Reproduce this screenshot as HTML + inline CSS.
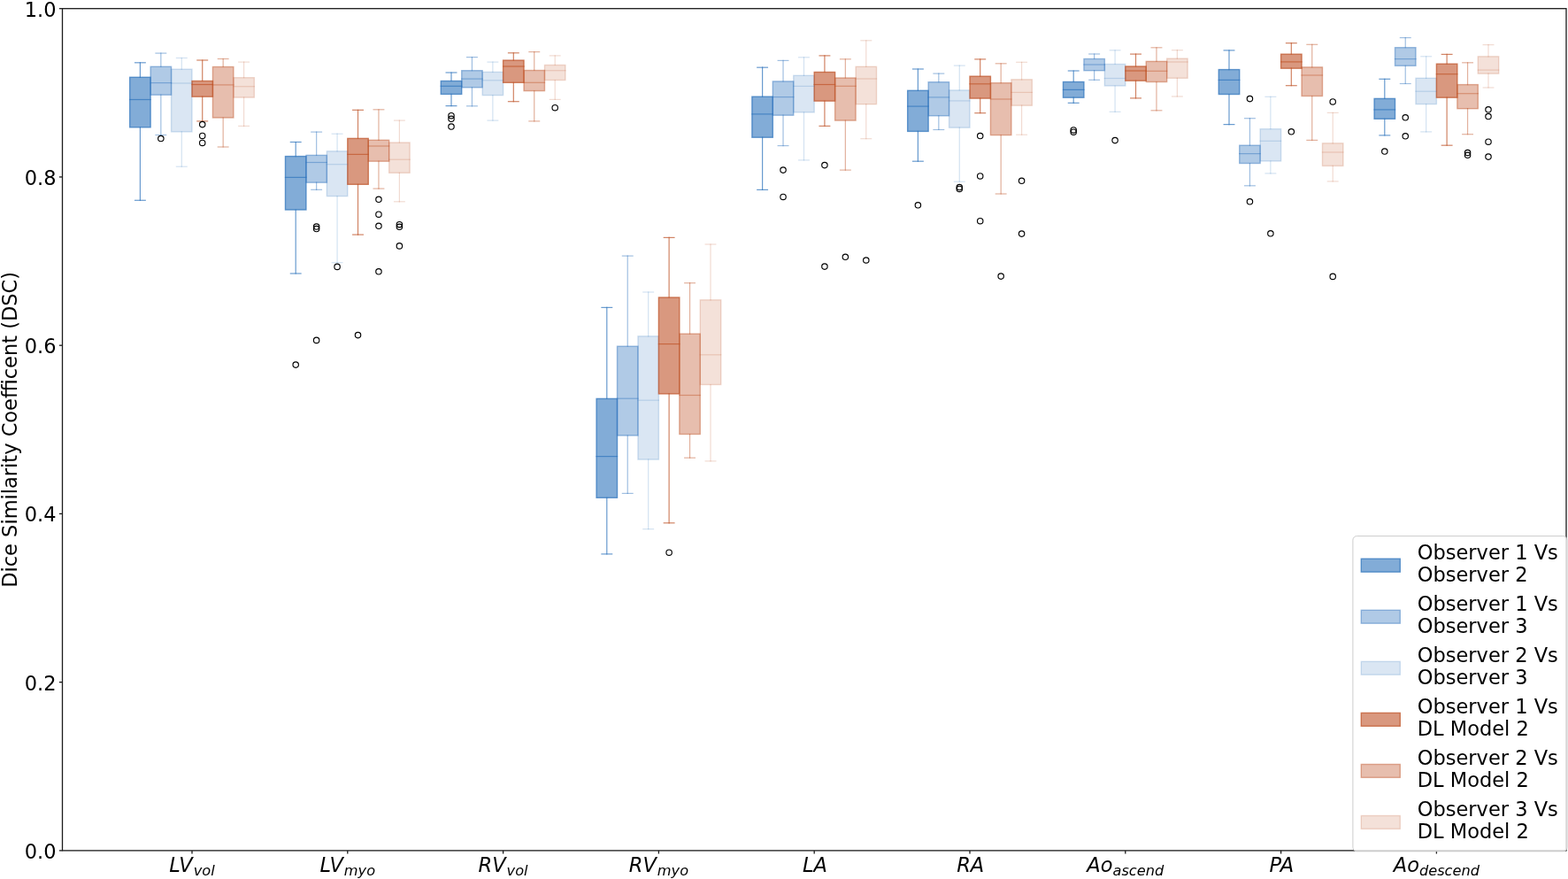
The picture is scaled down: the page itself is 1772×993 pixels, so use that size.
<!DOCTYPE html>
<html lang="en"><head><meta charset="utf-8"><title>Dice Similarity Coefficient boxplot</title>
<style>
html,body{margin:0;padding:0;background:#fff;}
svg{display:block;}
text{font-family:"DejaVu Sans","Liberation Sans",sans-serif;fill:#000;}
</style></head><body>
<svg width="1772" height="993" viewBox="0 0 1772 993">
<rect x="0" y="0" width="1772" height="993" fill="#fff"/>
<g>
<rect x="146.68" y="87.3" width="23.44" height="56.5" fill="#2f74bd" fill-opacity="0.6" stroke="#2f74bd" stroke-opacity="0.72" stroke-width="1.4"/>
<path d="M158.4 143.8V226.3M158.4 87.3V70.8" stroke="#2f74bd" stroke-opacity="0.72" stroke-width="1.2" stroke-linecap="square" fill="none"/>
<path d="M152.54 226.3H164.26" stroke="#2f74bd" stroke-opacity="0.72" stroke-width="1.2" stroke-linecap="square" fill="none"/>
<path d="M152.54 70.8H164.26" stroke="#2f74bd" stroke-opacity="0.72" stroke-width="1.2" stroke-linecap="square" fill="none"/>
<rect x="322.48" y="176.6" width="23.44" height="60.4" fill="#2f74bd" fill-opacity="0.6" stroke="#2f74bd" stroke-opacity="0.72" stroke-width="1.4"/>
<path d="M334.2 237V309M334.2 176.6V160.5" stroke="#2f74bd" stroke-opacity="0.72" stroke-width="1.2" stroke-linecap="square" fill="none"/>
<path d="M328.34 309H340.06" stroke="#2f74bd" stroke-opacity="0.72" stroke-width="1.2" stroke-linecap="square" fill="none"/>
<path d="M328.34 160.5H340.06" stroke="#2f74bd" stroke-opacity="0.72" stroke-width="1.2" stroke-linecap="square" fill="none"/>
<circle cx="334.2" cy="412.1" r="3.2" fill="none" stroke="#000" stroke-width="1.15"/>
<rect x="498.28" y="91.5" width="23.44" height="14.9" fill="#2f74bd" fill-opacity="0.6" stroke="#2f74bd" stroke-opacity="0.72" stroke-width="1.4"/>
<path d="M510 106.4V119.6M510 91.5V82" stroke="#2f74bd" stroke-opacity="0.72" stroke-width="1.2" stroke-linecap="square" fill="none"/>
<path d="M504.14 119.6H515.86" stroke="#2f74bd" stroke-opacity="0.72" stroke-width="1.2" stroke-linecap="square" fill="none"/>
<path d="M504.14 82H515.86" stroke="#2f74bd" stroke-opacity="0.72" stroke-width="1.2" stroke-linecap="square" fill="none"/>
<circle cx="510" cy="130.7" r="3.2" fill="none" stroke="#000" stroke-width="1.15"/>
<circle cx="510" cy="134.3" r="3.2" fill="none" stroke="#000" stroke-width="1.15"/>
<circle cx="510" cy="143" r="3.2" fill="none" stroke="#000" stroke-width="1.15"/>
<rect x="674.08" y="450.4" width="23.44" height="111.9" fill="#2f74bd" fill-opacity="0.6" stroke="#2f74bd" stroke-opacity="0.72" stroke-width="1.4"/>
<path d="M685.8 562.3V625.9M685.8 450.4V347.4" stroke="#2f74bd" stroke-opacity="0.72" stroke-width="1.2" stroke-linecap="square" fill="none"/>
<path d="M679.94 625.9H691.66" stroke="#2f74bd" stroke-opacity="0.72" stroke-width="1.2" stroke-linecap="square" fill="none"/>
<path d="M679.94 347.4H691.66" stroke="#2f74bd" stroke-opacity="0.72" stroke-width="1.2" stroke-linecap="square" fill="none"/>
<rect x="849.88" y="109.2" width="23.44" height="46" fill="#2f74bd" fill-opacity="0.6" stroke="#2f74bd" stroke-opacity="0.72" stroke-width="1.4"/>
<path d="M861.6 155.2V214.4M861.6 109.2V76.2" stroke="#2f74bd" stroke-opacity="0.72" stroke-width="1.2" stroke-linecap="square" fill="none"/>
<path d="M855.74 214.4H867.46" stroke="#2f74bd" stroke-opacity="0.72" stroke-width="1.2" stroke-linecap="square" fill="none"/>
<path d="M855.74 76.2H867.46" stroke="#2f74bd" stroke-opacity="0.72" stroke-width="1.2" stroke-linecap="square" fill="none"/>
<rect x="1025.68" y="102.3" width="23.44" height="46.1" fill="#2f74bd" fill-opacity="0.6" stroke="#2f74bd" stroke-opacity="0.72" stroke-width="1.4"/>
<path d="M1037.4 148.4V182.2M1037.4 102.3V78" stroke="#2f74bd" stroke-opacity="0.72" stroke-width="1.2" stroke-linecap="square" fill="none"/>
<path d="M1031.54 182.2H1043.26" stroke="#2f74bd" stroke-opacity="0.72" stroke-width="1.2" stroke-linecap="square" fill="none"/>
<path d="M1031.54 78H1043.26" stroke="#2f74bd" stroke-opacity="0.72" stroke-width="1.2" stroke-linecap="square" fill="none"/>
<circle cx="1037.4" cy="231.8" r="3.2" fill="none" stroke="#000" stroke-width="1.15"/>
<rect x="1201.48" y="92.5" width="23.44" height="17.7" fill="#2f74bd" fill-opacity="0.6" stroke="#2f74bd" stroke-opacity="0.72" stroke-width="1.4"/>
<path d="M1213.2 110.2V116.3M1213.2 92.5V80" stroke="#2f74bd" stroke-opacity="0.72" stroke-width="1.2" stroke-linecap="square" fill="none"/>
<path d="M1207.34 116.3H1219.06" stroke="#2f74bd" stroke-opacity="0.72" stroke-width="1.2" stroke-linecap="square" fill="none"/>
<path d="M1207.34 80H1219.06" stroke="#2f74bd" stroke-opacity="0.72" stroke-width="1.2" stroke-linecap="square" fill="none"/>
<circle cx="1213.2" cy="146.9" r="3.2" fill="none" stroke="#000" stroke-width="1.15"/>
<circle cx="1213.2" cy="149.2" r="3.2" fill="none" stroke="#000" stroke-width="1.15"/>
<rect x="1377.28" y="78.6" width="23.44" height="27.9" fill="#2f74bd" fill-opacity="0.6" stroke="#2f74bd" stroke-opacity="0.72" stroke-width="1.4"/>
<path d="M1389 106.5V140.6M1389 78.6V56.9" stroke="#2f74bd" stroke-opacity="0.72" stroke-width="1.2" stroke-linecap="square" fill="none"/>
<path d="M1383.14 140.6H1394.86" stroke="#2f74bd" stroke-opacity="0.72" stroke-width="1.2" stroke-linecap="square" fill="none"/>
<path d="M1383.14 56.9H1394.86" stroke="#2f74bd" stroke-opacity="0.72" stroke-width="1.2" stroke-linecap="square" fill="none"/>
<rect x="1553.08" y="111.4" width="23.44" height="22.9" fill="#2f74bd" fill-opacity="0.6" stroke="#2f74bd" stroke-opacity="0.72" stroke-width="1.4"/>
<path d="M1564.8 134.3V152.9M1564.8 111.4V89.3" stroke="#2f74bd" stroke-opacity="0.72" stroke-width="1.2" stroke-linecap="square" fill="none"/>
<path d="M1558.94 152.9H1570.66" stroke="#2f74bd" stroke-opacity="0.72" stroke-width="1.2" stroke-linecap="square" fill="none"/>
<path d="M1558.94 89.3H1570.66" stroke="#2f74bd" stroke-opacity="0.72" stroke-width="1.2" stroke-linecap="square" fill="none"/>
<circle cx="1564.8" cy="171" r="3.2" fill="none" stroke="#000" stroke-width="1.15"/>
</g>
<g>
<rect x="170.12" y="75.3" width="23.44" height="31.9" fill="#2f74bd" fill-opacity="0.38" stroke="#2f74bd" stroke-opacity="0.46" stroke-width="1.4"/>
<path d="M181.84 107.2V152.5M181.84 75.3V60.1" stroke="#2f74bd" stroke-opacity="0.46" stroke-width="1.2" stroke-linecap="square" fill="none"/>
<path d="M175.98 152.5H187.7" stroke="#2f74bd" stroke-opacity="0.46" stroke-width="1.2" stroke-linecap="square" fill="none"/>
<path d="M175.98 60.1H187.7" stroke="#2f74bd" stroke-opacity="0.46" stroke-width="1.2" stroke-linecap="square" fill="none"/>
<circle cx="181.84" cy="156.5" r="3.2" fill="none" stroke="#000" stroke-width="1.15"/>
<rect x="345.92" y="175.4" width="23.44" height="30.8" fill="#2f74bd" fill-opacity="0.38" stroke="#2f74bd" stroke-opacity="0.46" stroke-width="1.4"/>
<path d="M357.64 206.2V214.3M357.64 175.4V149.1" stroke="#2f74bd" stroke-opacity="0.46" stroke-width="1.2" stroke-linecap="square" fill="none"/>
<path d="M351.78 214.3H363.5" stroke="#2f74bd" stroke-opacity="0.46" stroke-width="1.2" stroke-linecap="square" fill="none"/>
<path d="M351.78 149.1H363.5" stroke="#2f74bd" stroke-opacity="0.46" stroke-width="1.2" stroke-linecap="square" fill="none"/>
<circle cx="357.64" cy="256" r="3.2" fill="none" stroke="#000" stroke-width="1.15"/>
<circle cx="357.64" cy="258.5" r="3.2" fill="none" stroke="#000" stroke-width="1.15"/>
<circle cx="357.64" cy="384.4" r="3.2" fill="none" stroke="#000" stroke-width="1.15"/>
<rect x="521.72" y="79.7" width="23.44" height="19.1" fill="#2f74bd" fill-opacity="0.38" stroke="#2f74bd" stroke-opacity="0.46" stroke-width="1.4"/>
<path d="M533.44 98.8V119.8M533.44 79.7V64.6" stroke="#2f74bd" stroke-opacity="0.46" stroke-width="1.2" stroke-linecap="square" fill="none"/>
<path d="M527.58 119.8H539.3" stroke="#2f74bd" stroke-opacity="0.46" stroke-width="1.2" stroke-linecap="square" fill="none"/>
<path d="M527.58 64.6H539.3" stroke="#2f74bd" stroke-opacity="0.46" stroke-width="1.2" stroke-linecap="square" fill="none"/>
<rect x="697.52" y="391.2" width="23.44" height="100.8" fill="#2f74bd" fill-opacity="0.38" stroke="#2f74bd" stroke-opacity="0.46" stroke-width="1.4"/>
<path d="M709.24 492V557.4M709.24 391.2V289.1" stroke="#2f74bd" stroke-opacity="0.46" stroke-width="1.2" stroke-linecap="square" fill="none"/>
<path d="M703.38 557.4H715.1" stroke="#2f74bd" stroke-opacity="0.46" stroke-width="1.2" stroke-linecap="square" fill="none"/>
<path d="M703.38 289.1H715.1" stroke="#2f74bd" stroke-opacity="0.46" stroke-width="1.2" stroke-linecap="square" fill="none"/>
<rect x="873.32" y="91.9" width="23.44" height="38.3" fill="#2f74bd" fill-opacity="0.38" stroke="#2f74bd" stroke-opacity="0.46" stroke-width="1.4"/>
<path d="M885.04 130.2V164.6M885.04 91.9V68.4" stroke="#2f74bd" stroke-opacity="0.46" stroke-width="1.2" stroke-linecap="square" fill="none"/>
<path d="M879.18 164.6H890.9" stroke="#2f74bd" stroke-opacity="0.46" stroke-width="1.2" stroke-linecap="square" fill="none"/>
<path d="M879.18 68.4H890.9" stroke="#2f74bd" stroke-opacity="0.46" stroke-width="1.2" stroke-linecap="square" fill="none"/>
<circle cx="885.04" cy="192.1" r="3.2" fill="none" stroke="#000" stroke-width="1.15"/>
<circle cx="885.04" cy="222.4" r="3.2" fill="none" stroke="#000" stroke-width="1.15"/>
<rect x="1049.12" y="92.7" width="23.44" height="38.1" fill="#2f74bd" fill-opacity="0.38" stroke="#2f74bd" stroke-opacity="0.46" stroke-width="1.4"/>
<path d="M1060.84 130.8V146.5M1060.84 92.7V83.1" stroke="#2f74bd" stroke-opacity="0.46" stroke-width="1.2" stroke-linecap="square" fill="none"/>
<path d="M1054.98 146.5H1066.7" stroke="#2f74bd" stroke-opacity="0.46" stroke-width="1.2" stroke-linecap="square" fill="none"/>
<path d="M1054.98 83.1H1066.7" stroke="#2f74bd" stroke-opacity="0.46" stroke-width="1.2" stroke-linecap="square" fill="none"/>
<rect x="1224.92" y="66.5" width="23.44" height="13.2" fill="#2f74bd" fill-opacity="0.38" stroke="#2f74bd" stroke-opacity="0.46" stroke-width="1.4"/>
<path d="M1236.64 79.7V90.3M1236.64 66.5V61" stroke="#2f74bd" stroke-opacity="0.46" stroke-width="1.2" stroke-linecap="square" fill="none"/>
<path d="M1230.78 90.3H1242.5" stroke="#2f74bd" stroke-opacity="0.46" stroke-width="1.2" stroke-linecap="square" fill="none"/>
<path d="M1230.78 61H1242.5" stroke="#2f74bd" stroke-opacity="0.46" stroke-width="1.2" stroke-linecap="square" fill="none"/>
<rect x="1400.72" y="164.2" width="23.44" height="20.3" fill="#2f74bd" fill-opacity="0.38" stroke="#2f74bd" stroke-opacity="0.46" stroke-width="1.4"/>
<path d="M1412.44 184.5V209.8M1412.44 164.2V133.7" stroke="#2f74bd" stroke-opacity="0.46" stroke-width="1.2" stroke-linecap="square" fill="none"/>
<path d="M1406.58 209.8H1418.3" stroke="#2f74bd" stroke-opacity="0.46" stroke-width="1.2" stroke-linecap="square" fill="none"/>
<path d="M1406.58 133.7H1418.3" stroke="#2f74bd" stroke-opacity="0.46" stroke-width="1.2" stroke-linecap="square" fill="none"/>
<circle cx="1412.44" cy="111.6" r="3.2" fill="none" stroke="#000" stroke-width="1.15"/>
<circle cx="1412.44" cy="227.8" r="3.2" fill="none" stroke="#000" stroke-width="1.15"/>
<rect x="1576.52" y="53.7" width="23.44" height="20.6" fill="#2f74bd" fill-opacity="0.38" stroke="#2f74bd" stroke-opacity="0.46" stroke-width="1.4"/>
<path d="M1588.24 74.3V94.5M1588.24 53.7V42.6" stroke="#2f74bd" stroke-opacity="0.46" stroke-width="1.2" stroke-linecap="square" fill="none"/>
<path d="M1582.38 94.5H1594.1" stroke="#2f74bd" stroke-opacity="0.46" stroke-width="1.2" stroke-linecap="square" fill="none"/>
<path d="M1582.38 42.6H1594.1" stroke="#2f74bd" stroke-opacity="0.46" stroke-width="1.2" stroke-linecap="square" fill="none"/>
<circle cx="1588.24" cy="132.8" r="3.2" fill="none" stroke="#000" stroke-width="1.15"/>
<circle cx="1588.24" cy="153.8" r="3.2" fill="none" stroke="#000" stroke-width="1.15"/>
</g>
<g>
<rect x="193.56" y="78.2" width="23.44" height="70.7" fill="#2f74bd" fill-opacity="0.175" stroke="#2f74bd" stroke-opacity="0.21" stroke-width="1.4"/>
<path d="M205.28 148.9V188.2M205.28 78.2V65.5" stroke="#2f74bd" stroke-opacity="0.21" stroke-width="1.2" stroke-linecap="square" fill="none"/>
<path d="M199.42 188.2H211.14" stroke="#2f74bd" stroke-opacity="0.21" stroke-width="1.2" stroke-linecap="square" fill="none"/>
<path d="M199.42 65.5H211.14" stroke="#2f74bd" stroke-opacity="0.21" stroke-width="1.2" stroke-linecap="square" fill="none"/>
<rect x="369.36" y="170.8" width="23.44" height="50.8" fill="#2f74bd" fill-opacity="0.175" stroke="#2f74bd" stroke-opacity="0.21" stroke-width="1.4"/>
<path d="M381.08 221.6V296.7M381.08 170.8V151.2" stroke="#2f74bd" stroke-opacity="0.21" stroke-width="1.2" stroke-linecap="square" fill="none"/>
<path d="M375.22 296.7H386.94" stroke="#2f74bd" stroke-opacity="0.21" stroke-width="1.2" stroke-linecap="square" fill="none"/>
<path d="M375.22 151.2H386.94" stroke="#2f74bd" stroke-opacity="0.21" stroke-width="1.2" stroke-linecap="square" fill="none"/>
<circle cx="381.08" cy="301.4" r="3.2" fill="none" stroke="#000" stroke-width="1.15"/>
<rect x="545.16" y="81.4" width="23.44" height="26.2" fill="#2f74bd" fill-opacity="0.175" stroke="#2f74bd" stroke-opacity="0.21" stroke-width="1.4"/>
<path d="M556.88 107.6V136.1M556.88 81.4V70.1" stroke="#2f74bd" stroke-opacity="0.21" stroke-width="1.2" stroke-linecap="square" fill="none"/>
<path d="M551.02 136.1H562.74" stroke="#2f74bd" stroke-opacity="0.21" stroke-width="1.2" stroke-linecap="square" fill="none"/>
<path d="M551.02 70.1H562.74" stroke="#2f74bd" stroke-opacity="0.21" stroke-width="1.2" stroke-linecap="square" fill="none"/>
<rect x="720.96" y="379.8" width="23.44" height="139.3" fill="#2f74bd" fill-opacity="0.175" stroke="#2f74bd" stroke-opacity="0.21" stroke-width="1.4"/>
<path d="M732.68 519.1V597.7M732.68 379.8V330" stroke="#2f74bd" stroke-opacity="0.21" stroke-width="1.2" stroke-linecap="square" fill="none"/>
<path d="M726.82 597.7H738.54" stroke="#2f74bd" stroke-opacity="0.21" stroke-width="1.2" stroke-linecap="square" fill="none"/>
<path d="M726.82 330H738.54" stroke="#2f74bd" stroke-opacity="0.21" stroke-width="1.2" stroke-linecap="square" fill="none"/>
<rect x="896.76" y="85.3" width="23.44" height="41.6" fill="#2f74bd" fill-opacity="0.175" stroke="#2f74bd" stroke-opacity="0.21" stroke-width="1.4"/>
<path d="M908.48 126.9V180.9M908.48 85.3V64.8" stroke="#2f74bd" stroke-opacity="0.21" stroke-width="1.2" stroke-linecap="square" fill="none"/>
<path d="M902.62 180.9H914.34" stroke="#2f74bd" stroke-opacity="0.21" stroke-width="1.2" stroke-linecap="square" fill="none"/>
<path d="M902.62 64.8H914.34" stroke="#2f74bd" stroke-opacity="0.21" stroke-width="1.2" stroke-linecap="square" fill="none"/>
<rect x="1072.56" y="101.9" width="23.44" height="42.3" fill="#2f74bd" fill-opacity="0.175" stroke="#2f74bd" stroke-opacity="0.21" stroke-width="1.4"/>
<path d="M1084.28 144.2V205.2M1084.28 101.9V74.1" stroke="#2f74bd" stroke-opacity="0.21" stroke-width="1.2" stroke-linecap="square" fill="none"/>
<path d="M1078.42 205.2H1090.14" stroke="#2f74bd" stroke-opacity="0.21" stroke-width="1.2" stroke-linecap="square" fill="none"/>
<path d="M1078.42 74.1H1090.14" stroke="#2f74bd" stroke-opacity="0.21" stroke-width="1.2" stroke-linecap="square" fill="none"/>
<circle cx="1084.28" cy="211.5" r="3.2" fill="none" stroke="#000" stroke-width="1.15"/>
<circle cx="1084.28" cy="213.4" r="3.2" fill="none" stroke="#000" stroke-width="1.15"/>
<rect x="1248.36" y="72.5" width="23.44" height="24.5" fill="#2f74bd" fill-opacity="0.175" stroke="#2f74bd" stroke-opacity="0.21" stroke-width="1.4"/>
<path d="M1260.08 97V126.3M1260.08 72.5V56.8" stroke="#2f74bd" stroke-opacity="0.21" stroke-width="1.2" stroke-linecap="square" fill="none"/>
<path d="M1254.22 126.3H1265.94" stroke="#2f74bd" stroke-opacity="0.21" stroke-width="1.2" stroke-linecap="square" fill="none"/>
<path d="M1254.22 56.8H1265.94" stroke="#2f74bd" stroke-opacity="0.21" stroke-width="1.2" stroke-linecap="square" fill="none"/>
<circle cx="1260.08" cy="158.6" r="3.2" fill="none" stroke="#000" stroke-width="1.15"/>
<rect x="1424.16" y="145.7" width="23.44" height="36.3" fill="#2f74bd" fill-opacity="0.175" stroke="#2f74bd" stroke-opacity="0.21" stroke-width="1.4"/>
<path d="M1435.88 182V195.9M1435.88 145.7V109.3" stroke="#2f74bd" stroke-opacity="0.21" stroke-width="1.2" stroke-linecap="square" fill="none"/>
<path d="M1430.02 195.9H1441.74" stroke="#2f74bd" stroke-opacity="0.21" stroke-width="1.2" stroke-linecap="square" fill="none"/>
<path d="M1430.02 109.3H1441.74" stroke="#2f74bd" stroke-opacity="0.21" stroke-width="1.2" stroke-linecap="square" fill="none"/>
<circle cx="1435.88" cy="263.8" r="3.2" fill="none" stroke="#000" stroke-width="1.15"/>
<rect x="1599.96" y="88.3" width="23.44" height="29.3" fill="#2f74bd" fill-opacity="0.175" stroke="#2f74bd" stroke-opacity="0.21" stroke-width="1.4"/>
<path d="M1611.68 117.6V148.9M1611.68 88.3V63.8" stroke="#2f74bd" stroke-opacity="0.21" stroke-width="1.2" stroke-linecap="square" fill="none"/>
<path d="M1605.82 148.9H1617.54" stroke="#2f74bd" stroke-opacity="0.21" stroke-width="1.2" stroke-linecap="square" fill="none"/>
<path d="M1605.82 63.8H1617.54" stroke="#2f74bd" stroke-opacity="0.21" stroke-width="1.2" stroke-linecap="square" fill="none"/>
</g>
<g>
<rect x="217" y="91.5" width="23.44" height="17.7" fill="#bf5429" fill-opacity="0.6" stroke="#bf5429" stroke-opacity="0.72" stroke-width="1.4"/>
<path d="M228.72 109.2V136.9M228.72 91.5V68" stroke="#bf5429" stroke-opacity="0.72" stroke-width="1.2" stroke-linecap="square" fill="none"/>
<path d="M222.86 136.9H234.58" stroke="#bf5429" stroke-opacity="0.72" stroke-width="1.2" stroke-linecap="square" fill="none"/>
<path d="M222.86 68H234.58" stroke="#bf5429" stroke-opacity="0.72" stroke-width="1.2" stroke-linecap="square" fill="none"/>
<circle cx="228.72" cy="140.6" r="3.2" fill="none" stroke="#000" stroke-width="1.15"/>
<circle cx="228.72" cy="153.4" r="3.2" fill="none" stroke="#000" stroke-width="1.15"/>
<circle cx="228.72" cy="161.4" r="3.2" fill="none" stroke="#000" stroke-width="1.15"/>
<rect x="392.8" y="156.4" width="23.44" height="51.9" fill="#bf5429" fill-opacity="0.6" stroke="#bf5429" stroke-opacity="0.72" stroke-width="1.4"/>
<path d="M404.52 208.3V265.1M404.52 156.4V124.3" stroke="#bf5429" stroke-opacity="0.72" stroke-width="1.2" stroke-linecap="square" fill="none"/>
<path d="M398.66 265.1H410.38" stroke="#bf5429" stroke-opacity="0.72" stroke-width="1.2" stroke-linecap="square" fill="none"/>
<path d="M398.66 124.3H410.38" stroke="#bf5429" stroke-opacity="0.72" stroke-width="1.2" stroke-linecap="square" fill="none"/>
<circle cx="404.52" cy="378.6" r="3.2" fill="none" stroke="#000" stroke-width="1.15"/>
<rect x="568.6" y="68.1" width="23.44" height="25.2" fill="#bf5429" fill-opacity="0.6" stroke="#bf5429" stroke-opacity="0.72" stroke-width="1.4"/>
<path d="M580.32 93.3V114.7M580.32 68.1V59.8" stroke="#bf5429" stroke-opacity="0.72" stroke-width="1.2" stroke-linecap="square" fill="none"/>
<path d="M574.46 114.7H586.18" stroke="#bf5429" stroke-opacity="0.72" stroke-width="1.2" stroke-linecap="square" fill="none"/>
<path d="M574.46 59.8H586.18" stroke="#bf5429" stroke-opacity="0.72" stroke-width="1.2" stroke-linecap="square" fill="none"/>
<rect x="744.4" y="336" width="23.44" height="108.9" fill="#bf5429" fill-opacity="0.6" stroke="#bf5429" stroke-opacity="0.72" stroke-width="1.4"/>
<path d="M756.12 444.9V590.8M756.12 336V268.4" stroke="#bf5429" stroke-opacity="0.72" stroke-width="1.2" stroke-linecap="square" fill="none"/>
<path d="M750.26 590.8H761.98" stroke="#bf5429" stroke-opacity="0.72" stroke-width="1.2" stroke-linecap="square" fill="none"/>
<path d="M750.26 268.4H761.98" stroke="#bf5429" stroke-opacity="0.72" stroke-width="1.2" stroke-linecap="square" fill="none"/>
<circle cx="756.12" cy="624.2" r="3.2" fill="none" stroke="#000" stroke-width="1.15"/>
<rect x="920.2" y="81.5" width="23.44" height="32.6" fill="#bf5429" fill-opacity="0.6" stroke="#bf5429" stroke-opacity="0.72" stroke-width="1.4"/>
<path d="M931.92 114.1V142.4M931.92 81.5V62.9" stroke="#bf5429" stroke-opacity="0.72" stroke-width="1.2" stroke-linecap="square" fill="none"/>
<path d="M926.06 142.4H937.78" stroke="#bf5429" stroke-opacity="0.72" stroke-width="1.2" stroke-linecap="square" fill="none"/>
<path d="M926.06 62.9H937.78" stroke="#bf5429" stroke-opacity="0.72" stroke-width="1.2" stroke-linecap="square" fill="none"/>
<circle cx="931.92" cy="186.6" r="3.2" fill="none" stroke="#000" stroke-width="1.15"/>
<circle cx="931.92" cy="301.1" r="3.2" fill="none" stroke="#000" stroke-width="1.15"/>
<rect x="1096" y="86.2" width="23.44" height="24.9" fill="#bf5429" fill-opacity="0.6" stroke="#bf5429" stroke-opacity="0.72" stroke-width="1.4"/>
<path d="M1107.72 111.1V127.7M1107.72 86.2V66.9" stroke="#bf5429" stroke-opacity="0.72" stroke-width="1.2" stroke-linecap="square" fill="none"/>
<path d="M1101.86 127.7H1113.58" stroke="#bf5429" stroke-opacity="0.72" stroke-width="1.2" stroke-linecap="square" fill="none"/>
<path d="M1101.86 66.9H1113.58" stroke="#bf5429" stroke-opacity="0.72" stroke-width="1.2" stroke-linecap="square" fill="none"/>
<circle cx="1107.72" cy="153.5" r="3.2" fill="none" stroke="#000" stroke-width="1.15"/>
<circle cx="1107.72" cy="198.9" r="3.2" fill="none" stroke="#000" stroke-width="1.15"/>
<circle cx="1107.72" cy="249.7" r="3.2" fill="none" stroke="#000" stroke-width="1.15"/>
<rect x="1271.8" y="75" width="23.44" height="16.2" fill="#bf5429" fill-opacity="0.6" stroke="#bf5429" stroke-opacity="0.72" stroke-width="1.4"/>
<path d="M1283.52 91.2V110.9M1283.52 75V61.1" stroke="#bf5429" stroke-opacity="0.72" stroke-width="1.2" stroke-linecap="square" fill="none"/>
<path d="M1277.66 110.9H1289.38" stroke="#bf5429" stroke-opacity="0.72" stroke-width="1.2" stroke-linecap="square" fill="none"/>
<path d="M1277.66 61.1H1289.38" stroke="#bf5429" stroke-opacity="0.72" stroke-width="1.2" stroke-linecap="square" fill="none"/>
<rect x="1447.6" y="61.2" width="23.44" height="16" fill="#bf5429" fill-opacity="0.6" stroke="#bf5429" stroke-opacity="0.72" stroke-width="1.4"/>
<path d="M1459.32 77.2V96.7M1459.32 61.2V48.7" stroke="#bf5429" stroke-opacity="0.72" stroke-width="1.2" stroke-linecap="square" fill="none"/>
<path d="M1453.46 96.7H1465.18" stroke="#bf5429" stroke-opacity="0.72" stroke-width="1.2" stroke-linecap="square" fill="none"/>
<path d="M1453.46 48.7H1465.18" stroke="#bf5429" stroke-opacity="0.72" stroke-width="1.2" stroke-linecap="square" fill="none"/>
<circle cx="1459.32" cy="148.8" r="3.2" fill="none" stroke="#000" stroke-width="1.15"/>
<rect x="1623.4" y="72.2" width="23.44" height="38" fill="#bf5429" fill-opacity="0.6" stroke="#bf5429" stroke-opacity="0.72" stroke-width="1.4"/>
<path d="M1635.12 110.2V164.2M1635.12 72.2V61.4" stroke="#bf5429" stroke-opacity="0.72" stroke-width="1.2" stroke-linecap="square" fill="none"/>
<path d="M1629.26 164.2H1640.98" stroke="#bf5429" stroke-opacity="0.72" stroke-width="1.2" stroke-linecap="square" fill="none"/>
<path d="M1629.26 61.4H1640.98" stroke="#bf5429" stroke-opacity="0.72" stroke-width="1.2" stroke-linecap="square" fill="none"/>
</g>
<g>
<rect x="240.44" y="75.5" width="23.44" height="57.5" fill="#bf5429" fill-opacity="0.38" stroke="#bf5429" stroke-opacity="0.46" stroke-width="1.4"/>
<path d="M252.16 133V166M252.16 75.5V66.5" stroke="#bf5429" stroke-opacity="0.46" stroke-width="1.2" stroke-linecap="square" fill="none"/>
<path d="M246.3 166H258.02" stroke="#bf5429" stroke-opacity="0.46" stroke-width="1.2" stroke-linecap="square" fill="none"/>
<path d="M246.3 66.5H258.02" stroke="#bf5429" stroke-opacity="0.46" stroke-width="1.2" stroke-linecap="square" fill="none"/>
<rect x="416.24" y="158.3" width="23.44" height="23.9" fill="#bf5429" fill-opacity="0.38" stroke="#bf5429" stroke-opacity="0.46" stroke-width="1.4"/>
<path d="M427.96 182.2V213.1M427.96 158.3V123.8" stroke="#bf5429" stroke-opacity="0.46" stroke-width="1.2" stroke-linecap="square" fill="none"/>
<path d="M422.1 213.1H433.82" stroke="#bf5429" stroke-opacity="0.46" stroke-width="1.2" stroke-linecap="square" fill="none"/>
<path d="M422.1 123.8H433.82" stroke="#bf5429" stroke-opacity="0.46" stroke-width="1.2" stroke-linecap="square" fill="none"/>
<circle cx="427.96" cy="225.3" r="3.2" fill="none" stroke="#000" stroke-width="1.15"/>
<circle cx="427.96" cy="242.2" r="3.2" fill="none" stroke="#000" stroke-width="1.15"/>
<circle cx="427.96" cy="255.3" r="3.2" fill="none" stroke="#000" stroke-width="1.15"/>
<circle cx="427.96" cy="306.8" r="3.2" fill="none" stroke="#000" stroke-width="1.15"/>
<rect x="592.04" y="79.5" width="23.44" height="23.1" fill="#bf5429" fill-opacity="0.38" stroke="#bf5429" stroke-opacity="0.46" stroke-width="1.4"/>
<path d="M603.76 102.6V136.9M603.76 79.5V58.6" stroke="#bf5429" stroke-opacity="0.46" stroke-width="1.2" stroke-linecap="square" fill="none"/>
<path d="M597.9 136.9H609.62" stroke="#bf5429" stroke-opacity="0.46" stroke-width="1.2" stroke-linecap="square" fill="none"/>
<path d="M597.9 58.6H609.62" stroke="#bf5429" stroke-opacity="0.46" stroke-width="1.2" stroke-linecap="square" fill="none"/>
<rect x="767.84" y="377.1" width="23.44" height="113.4" fill="#bf5429" fill-opacity="0.38" stroke="#bf5429" stroke-opacity="0.46" stroke-width="1.4"/>
<path d="M779.56 490.5V517.2M779.56 377.1V319.7" stroke="#bf5429" stroke-opacity="0.46" stroke-width="1.2" stroke-linecap="square" fill="none"/>
<path d="M773.7 517.2H785.42" stroke="#bf5429" stroke-opacity="0.46" stroke-width="1.2" stroke-linecap="square" fill="none"/>
<path d="M773.7 319.7H785.42" stroke="#bf5429" stroke-opacity="0.46" stroke-width="1.2" stroke-linecap="square" fill="none"/>
<rect x="943.64" y="88" width="23.44" height="48.1" fill="#bf5429" fill-opacity="0.38" stroke="#bf5429" stroke-opacity="0.46" stroke-width="1.4"/>
<path d="M955.36 136.1V192.1M955.36 88V66.8" stroke="#bf5429" stroke-opacity="0.46" stroke-width="1.2" stroke-linecap="square" fill="none"/>
<path d="M949.5 192.1H961.22" stroke="#bf5429" stroke-opacity="0.46" stroke-width="1.2" stroke-linecap="square" fill="none"/>
<path d="M949.5 66.8H961.22" stroke="#bf5429" stroke-opacity="0.46" stroke-width="1.2" stroke-linecap="square" fill="none"/>
<circle cx="955.36" cy="290.3" r="3.2" fill="none" stroke="#000" stroke-width="1.15"/>
<rect x="1119.44" y="93.7" width="23.44" height="58.9" fill="#bf5429" fill-opacity="0.38" stroke="#bf5429" stroke-opacity="0.46" stroke-width="1.4"/>
<path d="M1131.16 152.6V219M1131.16 93.7V71.8" stroke="#bf5429" stroke-opacity="0.46" stroke-width="1.2" stroke-linecap="square" fill="none"/>
<path d="M1125.3 219H1137.02" stroke="#bf5429" stroke-opacity="0.46" stroke-width="1.2" stroke-linecap="square" fill="none"/>
<path d="M1125.3 71.8H1137.02" stroke="#bf5429" stroke-opacity="0.46" stroke-width="1.2" stroke-linecap="square" fill="none"/>
<circle cx="1131.16" cy="312.1" r="3.2" fill="none" stroke="#000" stroke-width="1.15"/>
<rect x="1295.24" y="69.4" width="23.44" height="23.1" fill="#bf5429" fill-opacity="0.38" stroke="#bf5429" stroke-opacity="0.46" stroke-width="1.4"/>
<path d="M1306.96 92.5V124.8M1306.96 69.4V53.8" stroke="#bf5429" stroke-opacity="0.46" stroke-width="1.2" stroke-linecap="square" fill="none"/>
<path d="M1301.1 124.8H1312.82" stroke="#bf5429" stroke-opacity="0.46" stroke-width="1.2" stroke-linecap="square" fill="none"/>
<path d="M1301.1 53.8H1312.82" stroke="#bf5429" stroke-opacity="0.46" stroke-width="1.2" stroke-linecap="square" fill="none"/>
<rect x="1471.04" y="75.9" width="23.44" height="32.6" fill="#bf5429" fill-opacity="0.38" stroke="#bf5429" stroke-opacity="0.46" stroke-width="1.4"/>
<path d="M1482.76 108.5V158.4M1482.76 75.9V50.3" stroke="#bf5429" stroke-opacity="0.46" stroke-width="1.2" stroke-linecap="square" fill="none"/>
<path d="M1476.9 158.4H1488.62" stroke="#bf5429" stroke-opacity="0.46" stroke-width="1.2" stroke-linecap="square" fill="none"/>
<path d="M1476.9 50.3H1488.62" stroke="#bf5429" stroke-opacity="0.46" stroke-width="1.2" stroke-linecap="square" fill="none"/>
<rect x="1646.84" y="95.6" width="23.44" height="27.1" fill="#bf5429" fill-opacity="0.38" stroke="#bf5429" stroke-opacity="0.46" stroke-width="1.4"/>
<path d="M1658.56 122.7V151.7M1658.56 95.6V70.8" stroke="#bf5429" stroke-opacity="0.46" stroke-width="1.2" stroke-linecap="square" fill="none"/>
<path d="M1652.7 151.7H1664.42" stroke="#bf5429" stroke-opacity="0.46" stroke-width="1.2" stroke-linecap="square" fill="none"/>
<path d="M1652.7 70.8H1664.42" stroke="#bf5429" stroke-opacity="0.46" stroke-width="1.2" stroke-linecap="square" fill="none"/>
<circle cx="1658.56" cy="172.6" r="3.2" fill="none" stroke="#000" stroke-width="1.15"/>
<circle cx="1658.56" cy="175.3" r="3.2" fill="none" stroke="#000" stroke-width="1.15"/>
</g>
<g>
<rect x="263.88" y="87.7" width="23.44" height="22.4" fill="#bf5429" fill-opacity="0.175" stroke="#bf5429" stroke-opacity="0.21" stroke-width="1.4"/>
<path d="M275.6 110.1V142.4M275.6 87.7V70.1" stroke="#bf5429" stroke-opacity="0.21" stroke-width="1.2" stroke-linecap="square" fill="none"/>
<path d="M269.74 142.4H281.46" stroke="#bf5429" stroke-opacity="0.21" stroke-width="1.2" stroke-linecap="square" fill="none"/>
<path d="M269.74 70.1H281.46" stroke="#bf5429" stroke-opacity="0.21" stroke-width="1.2" stroke-linecap="square" fill="none"/>
<rect x="439.68" y="161" width="23.44" height="34.3" fill="#bf5429" fill-opacity="0.175" stroke="#bf5429" stroke-opacity="0.21" stroke-width="1.4"/>
<path d="M451.4 195.3V227.8M451.4 161V136.1" stroke="#bf5429" stroke-opacity="0.21" stroke-width="1.2" stroke-linecap="square" fill="none"/>
<path d="M445.54 227.8H457.26" stroke="#bf5429" stroke-opacity="0.21" stroke-width="1.2" stroke-linecap="square" fill="none"/>
<path d="M445.54 136.1H457.26" stroke="#bf5429" stroke-opacity="0.21" stroke-width="1.2" stroke-linecap="square" fill="none"/>
<circle cx="451.4" cy="253.7" r="3.2" fill="none" stroke="#000" stroke-width="1.15"/>
<circle cx="451.4" cy="256.3" r="3.2" fill="none" stroke="#000" stroke-width="1.15"/>
<circle cx="451.4" cy="277.9" r="3.2" fill="none" stroke="#000" stroke-width="1.15"/>
<rect x="615.48" y="73.5" width="23.44" height="17" fill="#bf5429" fill-opacity="0.175" stroke="#bf5429" stroke-opacity="0.21" stroke-width="1.4"/>
<path d="M627.2 90.5V112.4M627.2 73.5V62.9" stroke="#bf5429" stroke-opacity="0.21" stroke-width="1.2" stroke-linecap="square" fill="none"/>
<path d="M621.34 112.4H633.06" stroke="#bf5429" stroke-opacity="0.21" stroke-width="1.2" stroke-linecap="square" fill="none"/>
<path d="M621.34 62.9H633.06" stroke="#bf5429" stroke-opacity="0.21" stroke-width="1.2" stroke-linecap="square" fill="none"/>
<circle cx="627.2" cy="121.7" r="3.2" fill="none" stroke="#000" stroke-width="1.15"/>
<rect x="791.28" y="338.8" width="23.44" height="95.7" fill="#bf5429" fill-opacity="0.175" stroke="#bf5429" stroke-opacity="0.21" stroke-width="1.4"/>
<path d="M803 434.5V520.9M803 338.8V276" stroke="#bf5429" stroke-opacity="0.21" stroke-width="1.2" stroke-linecap="square" fill="none"/>
<path d="M797.14 520.9H808.86" stroke="#bf5429" stroke-opacity="0.21" stroke-width="1.2" stroke-linecap="square" fill="none"/>
<path d="M797.14 276H808.86" stroke="#bf5429" stroke-opacity="0.21" stroke-width="1.2" stroke-linecap="square" fill="none"/>
<rect x="967.08" y="75.3" width="23.44" height="42.4" fill="#bf5429" fill-opacity="0.175" stroke="#bf5429" stroke-opacity="0.21" stroke-width="1.4"/>
<path d="M978.8 117.7V156.7M978.8 75.3V45.8" stroke="#bf5429" stroke-opacity="0.21" stroke-width="1.2" stroke-linecap="square" fill="none"/>
<path d="M972.94 156.7H984.66" stroke="#bf5429" stroke-opacity="0.21" stroke-width="1.2" stroke-linecap="square" fill="none"/>
<path d="M972.94 45.8H984.66" stroke="#bf5429" stroke-opacity="0.21" stroke-width="1.2" stroke-linecap="square" fill="none"/>
<circle cx="978.8" cy="294" r="3.2" fill="none" stroke="#000" stroke-width="1.15"/>
<rect x="1142.88" y="89.8" width="23.44" height="29.4" fill="#bf5429" fill-opacity="0.175" stroke="#bf5429" stroke-opacity="0.21" stroke-width="1.4"/>
<path d="M1154.6 119.2V152.2M1154.6 89.8V70.3" stroke="#bf5429" stroke-opacity="0.21" stroke-width="1.2" stroke-linecap="square" fill="none"/>
<path d="M1148.74 152.2H1160.46" stroke="#bf5429" stroke-opacity="0.21" stroke-width="1.2" stroke-linecap="square" fill="none"/>
<path d="M1148.74 70.3H1160.46" stroke="#bf5429" stroke-opacity="0.21" stroke-width="1.2" stroke-linecap="square" fill="none"/>
<circle cx="1154.6" cy="204.3" r="3.2" fill="none" stroke="#000" stroke-width="1.15"/>
<circle cx="1154.6" cy="264.1" r="3.2" fill="none" stroke="#000" stroke-width="1.15"/>
<rect x="1318.68" y="66.1" width="23.44" height="22.2" fill="#bf5429" fill-opacity="0.175" stroke="#bf5429" stroke-opacity="0.21" stroke-width="1.4"/>
<path d="M1330.4 88.3V109M1330.4 66.1V56.7" stroke="#bf5429" stroke-opacity="0.21" stroke-width="1.2" stroke-linecap="square" fill="none"/>
<path d="M1324.54 109H1336.26" stroke="#bf5429" stroke-opacity="0.21" stroke-width="1.2" stroke-linecap="square" fill="none"/>
<path d="M1324.54 56.7H1336.26" stroke="#bf5429" stroke-opacity="0.21" stroke-width="1.2" stroke-linecap="square" fill="none"/>
<rect x="1494.48" y="161.8" width="23.44" height="25.6" fill="#bf5429" fill-opacity="0.175" stroke="#bf5429" stroke-opacity="0.21" stroke-width="1.4"/>
<path d="M1506.2 187.4V204.9M1506.2 161.8V127.4" stroke="#bf5429" stroke-opacity="0.21" stroke-width="1.2" stroke-linecap="square" fill="none"/>
<path d="M1500.34 204.9H1512.06" stroke="#bf5429" stroke-opacity="0.21" stroke-width="1.2" stroke-linecap="square" fill="none"/>
<path d="M1500.34 127.4H1512.06" stroke="#bf5429" stroke-opacity="0.21" stroke-width="1.2" stroke-linecap="square" fill="none"/>
<circle cx="1506.2" cy="114.9" r="3.2" fill="none" stroke="#000" stroke-width="1.15"/>
<circle cx="1506.2" cy="312.4" r="3.2" fill="none" stroke="#000" stroke-width="1.15"/>
<rect x="1670.28" y="63.8" width="23.44" height="19.4" fill="#bf5429" fill-opacity="0.175" stroke="#bf5429" stroke-opacity="0.21" stroke-width="1.4"/>
<path d="M1682 83.2V99M1682 63.8V50.6" stroke="#bf5429" stroke-opacity="0.21" stroke-width="1.2" stroke-linecap="square" fill="none"/>
<path d="M1676.14 99H1687.86" stroke="#bf5429" stroke-opacity="0.21" stroke-width="1.2" stroke-linecap="square" fill="none"/>
<path d="M1676.14 50.6H1687.86" stroke="#bf5429" stroke-opacity="0.21" stroke-width="1.2" stroke-linecap="square" fill="none"/>
<circle cx="1682" cy="123.8" r="3.2" fill="none" stroke="#000" stroke-width="1.15"/>
<circle cx="1682" cy="131.5" r="3.2" fill="none" stroke="#000" stroke-width="1.15"/>
<circle cx="1682" cy="160.2" r="3.2" fill="none" stroke="#000" stroke-width="1.15"/>
<circle cx="1682" cy="177.1" r="3.2" fill="none" stroke="#000" stroke-width="1.15"/>
</g>
<g>
<path d="M146.68 112.5H170.12" stroke="#2f74bd" stroke-opacity="0.72" stroke-width="1.2" stroke-linecap="square" fill="none"/>
<path d="M322.48 200.4H345.92" stroke="#2f74bd" stroke-opacity="0.72" stroke-width="1.2" stroke-linecap="square" fill="none"/>
<path d="M498.28 97.3H521.72" stroke="#2f74bd" stroke-opacity="0.72" stroke-width="1.2" stroke-linecap="square" fill="none"/>
<path d="M674.08 515.6H697.52" stroke="#2f74bd" stroke-opacity="0.72" stroke-width="1.2" stroke-linecap="square" fill="none"/>
<path d="M849.88 128.9H873.32" stroke="#2f74bd" stroke-opacity="0.72" stroke-width="1.2" stroke-linecap="square" fill="none"/>
<path d="M1025.68 120.1H1049.12" stroke="#2f74bd" stroke-opacity="0.72" stroke-width="1.2" stroke-linecap="square" fill="none"/>
<path d="M1201.48 101.4H1224.92" stroke="#2f74bd" stroke-opacity="0.72" stroke-width="1.2" stroke-linecap="square" fill="none"/>
<path d="M1377.28 90.4H1400.72" stroke="#2f74bd" stroke-opacity="0.72" stroke-width="1.2" stroke-linecap="square" fill="none"/>
<path d="M1553.08 123.9H1576.52" stroke="#2f74bd" stroke-opacity="0.72" stroke-width="1.2" stroke-linecap="square" fill="none"/>
<path d="M170.12 93.6H193.56" stroke="#2f74bd" stroke-opacity="0.46" stroke-width="1.2" stroke-linecap="square" fill="none"/>
<path d="M345.92 183.5H369.36" stroke="#2f74bd" stroke-opacity="0.46" stroke-width="1.2" stroke-linecap="square" fill="none"/>
<path d="M521.72 89.1H545.16" stroke="#2f74bd" stroke-opacity="0.46" stroke-width="1.2" stroke-linecap="square" fill="none"/>
<path d="M697.52 450.2H720.96" stroke="#2f74bd" stroke-opacity="0.46" stroke-width="1.2" stroke-linecap="square" fill="none"/>
<path d="M873.32 109.6H896.76" stroke="#2f74bd" stroke-opacity="0.46" stroke-width="1.2" stroke-linecap="square" fill="none"/>
<path d="M1049.12 109.9H1072.56" stroke="#2f74bd" stroke-opacity="0.46" stroke-width="1.2" stroke-linecap="square" fill="none"/>
<path d="M1224.92 73H1248.36" stroke="#2f74bd" stroke-opacity="0.46" stroke-width="1.2" stroke-linecap="square" fill="none"/>
<path d="M1400.72 173.6H1424.16" stroke="#2f74bd" stroke-opacity="0.46" stroke-width="1.2" stroke-linecap="square" fill="none"/>
<path d="M1576.52 66.6H1599.96" stroke="#2f74bd" stroke-opacity="0.46" stroke-width="1.2" stroke-linecap="square" fill="none"/>
<path d="M193.56 94H217" stroke="#2f74bd" stroke-opacity="0.21" stroke-width="1.2" stroke-linecap="square" fill="none"/>
<path d="M369.36 185.7H392.8" stroke="#2f74bd" stroke-opacity="0.21" stroke-width="1.2" stroke-linecap="square" fill="none"/>
<path d="M545.16 90.8H568.6" stroke="#2f74bd" stroke-opacity="0.21" stroke-width="1.2" stroke-linecap="square" fill="none"/>
<path d="M720.96 452.2H744.4" stroke="#2f74bd" stroke-opacity="0.21" stroke-width="1.2" stroke-linecap="square" fill="none"/>
<path d="M896.76 97.4H920.2" stroke="#2f74bd" stroke-opacity="0.21" stroke-width="1.2" stroke-linecap="square" fill="none"/>
<path d="M1072.56 113.9H1096" stroke="#2f74bd" stroke-opacity="0.21" stroke-width="1.2" stroke-linecap="square" fill="none"/>
<path d="M1248.36 88.5H1271.8" stroke="#2f74bd" stroke-opacity="0.21" stroke-width="1.2" stroke-linecap="square" fill="none"/>
<path d="M1424.16 159.3H1447.6" stroke="#2f74bd" stroke-opacity="0.21" stroke-width="1.2" stroke-linecap="square" fill="none"/>
<path d="M1599.96 103.2H1623.4" stroke="#2f74bd" stroke-opacity="0.21" stroke-width="1.2" stroke-linecap="square" fill="none"/>
<path d="M217 95.5H240.44" stroke="#bf5429" stroke-opacity="0.72" stroke-width="1.2" stroke-linecap="square" fill="none"/>
<path d="M392.8 174.4H416.24" stroke="#bf5429" stroke-opacity="0.72" stroke-width="1.2" stroke-linecap="square" fill="none"/>
<path d="M568.6 75H592.04" stroke="#bf5429" stroke-opacity="0.72" stroke-width="1.2" stroke-linecap="square" fill="none"/>
<path d="M744.4 388.6H767.84" stroke="#bf5429" stroke-opacity="0.72" stroke-width="1.2" stroke-linecap="square" fill="none"/>
<path d="M920.2 95.5H943.64" stroke="#bf5429" stroke-opacity="0.72" stroke-width="1.2" stroke-linecap="square" fill="none"/>
<path d="M1096 94.8H1119.44" stroke="#bf5429" stroke-opacity="0.72" stroke-width="1.2" stroke-linecap="square" fill="none"/>
<path d="M1271.8 80H1295.24" stroke="#bf5429" stroke-opacity="0.72" stroke-width="1.2" stroke-linecap="square" fill="none"/>
<path d="M1447.6 69.9H1471.04" stroke="#bf5429" stroke-opacity="0.72" stroke-width="1.2" stroke-linecap="square" fill="none"/>
<path d="M1623.4 83.7H1646.84" stroke="#bf5429" stroke-opacity="0.72" stroke-width="1.2" stroke-linecap="square" fill="none"/>
<path d="M240.44 95.9H263.88" stroke="#bf5429" stroke-opacity="0.46" stroke-width="1.2" stroke-linecap="square" fill="none"/>
<path d="M416.24 165H439.68" stroke="#bf5429" stroke-opacity="0.46" stroke-width="1.2" stroke-linecap="square" fill="none"/>
<path d="M592.04 93.3H615.48" stroke="#bf5429" stroke-opacity="0.46" stroke-width="1.2" stroke-linecap="square" fill="none"/>
<path d="M767.84 446.5H791.28" stroke="#bf5429" stroke-opacity="0.46" stroke-width="1.2" stroke-linecap="square" fill="none"/>
<path d="M943.64 97.3H967.08" stroke="#bf5429" stroke-opacity="0.46" stroke-width="1.2" stroke-linecap="square" fill="none"/>
<path d="M1119.44 112H1142.88" stroke="#bf5429" stroke-opacity="0.46" stroke-width="1.2" stroke-linecap="square" fill="none"/>
<path d="M1295.24 80.3H1318.68" stroke="#bf5429" stroke-opacity="0.46" stroke-width="1.2" stroke-linecap="square" fill="none"/>
<path d="M1471.04 85H1494.48" stroke="#bf5429" stroke-opacity="0.46" stroke-width="1.2" stroke-linecap="square" fill="none"/>
<path d="M1646.84 105.7H1670.28" stroke="#bf5429" stroke-opacity="0.46" stroke-width="1.2" stroke-linecap="square" fill="none"/>
<path d="M263.88 97.7H287.32" stroke="#bf5429" stroke-opacity="0.21" stroke-width="1.2" stroke-linecap="square" fill="none"/>
<path d="M439.68 180.2H463.12" stroke="#bf5429" stroke-opacity="0.21" stroke-width="1.2" stroke-linecap="square" fill="none"/>
<path d="M615.48 79.7H638.92" stroke="#bf5429" stroke-opacity="0.21" stroke-width="1.2" stroke-linecap="square" fill="none"/>
<path d="M791.28 400.8H814.72" stroke="#bf5429" stroke-opacity="0.21" stroke-width="1.2" stroke-linecap="square" fill="none"/>
<path d="M967.08 89H990.52" stroke="#bf5429" stroke-opacity="0.21" stroke-width="1.2" stroke-linecap="square" fill="none"/>
<path d="M1142.88 104.4H1166.32" stroke="#bf5429" stroke-opacity="0.21" stroke-width="1.2" stroke-linecap="square" fill="none"/>
<path d="M1318.68 70H1342.12" stroke="#bf5429" stroke-opacity="0.21" stroke-width="1.2" stroke-linecap="square" fill="none"/>
<path d="M1494.48 172H1517.92" stroke="#bf5429" stroke-opacity="0.21" stroke-width="1.2" stroke-linecap="square" fill="none"/>
<path d="M1670.28 79.1H1693.72" stroke="#bf5429" stroke-opacity="0.21" stroke-width="1.2" stroke-linecap="square" fill="none"/>
</g>
<rect x="70.5" y="9.7" width="1699.5" height="951.2" fill="none" stroke="#1a1a1a" stroke-width="1.3"/>
<path d="M70.5 960.9H66.9" stroke="#1a1a1a" stroke-width="1.3"/>
<text x="63.5" y="969.8" font-size="22.5" text-anchor="end">0.0</text>
<path d="M70.5 770.66H66.9" stroke="#1a1a1a" stroke-width="1.3"/>
<text x="63.5" y="779.56" font-size="22.5" text-anchor="end">0.2</text>
<path d="M70.5 580.42H66.9" stroke="#1a1a1a" stroke-width="1.3"/>
<text x="63.5" y="589.32" font-size="22.5" text-anchor="end">0.4</text>
<path d="M70.5 390.18H66.9" stroke="#1a1a1a" stroke-width="1.3"/>
<text x="63.5" y="399.08" font-size="22.5" text-anchor="end">0.6</text>
<path d="M70.5 199.94H66.9" stroke="#1a1a1a" stroke-width="1.3"/>
<text x="63.5" y="208.84" font-size="22.5" text-anchor="end">0.8</text>
<path d="M70.5 9.7H66.9" stroke="#1a1a1a" stroke-width="1.3"/>
<text x="63.5" y="18.6" font-size="22.5" text-anchor="end">1.0</text>
<path d="M217 960.9V964.5" stroke="#1a1a1a" stroke-width="1.3"/>
<text x="217" y="984.8" font-size="22.5" font-style="italic" text-anchor="middle">LV<tspan font-size="16.2" dx="1" dy="4.0">vol</tspan></text>
<path d="M392.8 960.9V964.5" stroke="#1a1a1a" stroke-width="1.3"/>
<text x="392.8" y="984.8" font-size="22.5" font-style="italic" text-anchor="middle">LV<tspan font-size="16.2" dx="1" dy="4.0">myo</tspan></text>
<path d="M568.6 960.9V964.5" stroke="#1a1a1a" stroke-width="1.3"/>
<text x="568.6" y="984.8" font-size="22.5" font-style="italic" text-anchor="middle">RV<tspan font-size="16.2" dx="1" dy="4.0">vol</tspan></text>
<path d="M744.4 960.9V964.5" stroke="#1a1a1a" stroke-width="1.3"/>
<text x="744.4" y="984.8" font-size="22.5" font-style="italic" text-anchor="middle">RV<tspan font-size="16.2" dx="1" dy="4.0">myo</tspan></text>
<path d="M920.2 960.9V964.5" stroke="#1a1a1a" stroke-width="1.3"/>
<text x="920.9" y="984.8" font-size="22.5" font-style="italic" text-anchor="middle">LA</text>
<path d="M1096 960.9V964.5" stroke="#1a1a1a" stroke-width="1.3"/>
<text x="1096.7" y="984.8" font-size="22.5" font-style="italic" text-anchor="middle">RA</text>
<path d="M1271.8 960.9V964.5" stroke="#1a1a1a" stroke-width="1.3"/>
<text x="1271.8" y="984.8" font-size="22.5" font-style="italic" text-anchor="middle">Ao<tspan font-size="16.2" dx="0" dy="4.0">ascend</tspan></text>
<path d="M1447.6 960.9V964.5" stroke="#1a1a1a" stroke-width="1.3"/>
<text x="1448.3" y="984.8" font-size="22.5" font-style="italic" text-anchor="middle">PA</text>
<path d="M1623.4 960.9V964.5" stroke="#1a1a1a" stroke-width="1.3"/>
<text x="1623.4" y="984.8" font-size="22.5" font-style="italic" text-anchor="middle">Ao<tspan font-size="16.2" dx="0" dy="4.0">descend</tspan></text>
<text transform="translate(18.7 485.4) rotate(-90)" font-size="22.5" text-anchor="middle">Dice Similarity Coefficent (DSC)</text>
<rect x="1528.9" y="605.6" width="242.1" height="356.2" rx="4.5" ry="4.5" fill="#fff" fill-opacity="0.8" stroke="#ccc" stroke-width="1"/>
<rect x="1538.3" y="631.25" width="44" height="14.9" fill="#2f74bd" fill-opacity="0.6" stroke="#2f74bd" stroke-opacity="0.72" stroke-width="1.4"/>
<text x="1601.8" y="631.8" font-size="22.5">Observer 1 Vs</text>
<text x="1601.8" y="656.7" font-size="22.5">Observer 2</text>
<rect x="1538.3" y="689.3" width="44" height="14.9" fill="#2f74bd" fill-opacity="0.38" stroke="#2f74bd" stroke-opacity="0.46" stroke-width="1.4"/>
<text x="1601.8" y="689.8" font-size="22.5">Observer 1 Vs</text>
<text x="1601.8" y="714.7" font-size="22.5">Observer 3</text>
<rect x="1538.3" y="747.35" width="44" height="14.9" fill="#2f74bd" fill-opacity="0.175" stroke="#2f74bd" stroke-opacity="0.21" stroke-width="1.4"/>
<text x="1601.8" y="747.8" font-size="22.5">Observer 2 Vs</text>
<text x="1601.8" y="772.7" font-size="22.5">Observer 3</text>
<rect x="1538.3" y="805.4" width="44" height="14.9" fill="#bf5429" fill-opacity="0.6" stroke="#bf5429" stroke-opacity="0.72" stroke-width="1.4"/>
<text x="1601.8" y="805.8" font-size="22.5">Observer 1 Vs</text>
<text x="1601.8" y="830.7" font-size="22.5">DL Model 2</text>
<rect x="1538.3" y="863.45" width="44" height="14.9" fill="#bf5429" fill-opacity="0.38" stroke="#bf5429" stroke-opacity="0.46" stroke-width="1.4"/>
<text x="1601.8" y="863.8" font-size="22.5">Observer 2 Vs</text>
<text x="1601.8" y="888.7" font-size="22.5">DL Model 2</text>
<rect x="1538.3" y="921.5" width="44" height="14.9" fill="#bf5429" fill-opacity="0.175" stroke="#bf5429" stroke-opacity="0.21" stroke-width="1.4"/>
<text x="1601.8" y="921.8" font-size="22.5">Observer 3 Vs</text>
<text x="1601.8" y="946.7" font-size="22.5">DL Model 2</text>
</svg>
</body></html>
